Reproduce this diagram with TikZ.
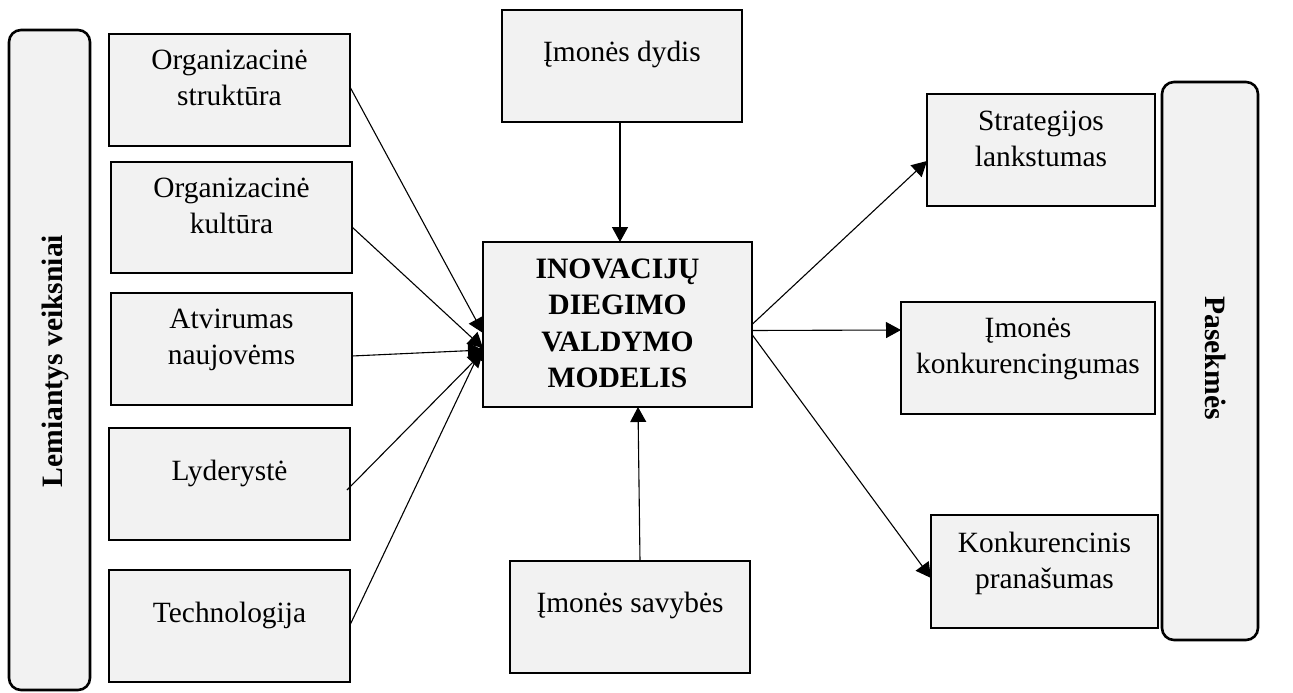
\documentclass[tikz,border=0pt]{standalone}
\usepackage{fontspec}
\setmainfont{Liberation Serif}
\usetikzlibrary{arrows.meta}
\definecolor{boxfill}{HTML}{F2F2F2}
% centred lines whose reference point is the baseline of the first line
\newcommand{\boxlines}[1]{\begin{tabular}[t]{@{}c@{}}#1\end{tabular}}
\begin{document}
\begin{tikzpicture}[x=1pt,y=-1pt,
  box/.style={draw=black, line width=2.6pt, fill=boxfill, inner sep=0pt, outer sep=0pt, anchor=north west},
  side/.style={box, rounded corners=12pt},
  lbl/.style={inner sep=0pt, anchor=base, font=\fontsize{29.4}{36}\selectfont},
  head/.style={inner sep=0pt, anchor=base, font=\fontsize{29.6}{36.5}\selectfont\bfseries},
  link/.style={line width=1.1pt, -{Triangle[length=15pt,width=16pt]}},
]
\useasboundingbox (0,0) rectangle (1293,693);

% side bands
\node[side, minimum width=81pt, minimum height=660pt] (lf) at (9,30) {};
\node[side, minimum width=96pt, minimum height=558pt] (rf) at (1162,82) {};
\node[head, rotate=90] (lft) at (62,361) {Lemiantys veiksniai};
\node[head, rotate=-90] (rgt) at (1205,358) {Pasekmės};

% determining factors
\node[box, minimum width=241pt, minimum height=112pt] (s1) at (109,34) {};
\node[box, minimum width=241pt, minimum height=111pt] (s2) at (111,162) {};
\node[box, minimum width=241pt, minimum height=112pt] (s3) at (111,293) {};
\node[box, minimum width=241pt, minimum height=112pt] (s4) at (109,428) {};
\node[box, minimum width=241pt, minimum height=112pt] (s5) at (109,570) {};
\node[lbl] (s1t) at (229.5,70) {\boxlines{Organizacinė\\struktūra}};
\node[lbl] (s2t) at (231.5,197) {\boxlines{Organizacinė\\kultūra}};
\node[lbl] (s3t) at (231.5,328) {\boxlines{Atvirumas\\naujovėms}};
\node[lbl] (s4t) at (229.5,480) {Lyderystė};
\node[lbl] (s5t) at (229.5,622) {Technologija};

% central model and company boxes
\node[box, minimum width=240pt, minimum height=112pt] (d) at (502,10) {};
\node[box, minimum width=269pt, minimum height=165pt] (m) at (483,242) {};
\node[box, minimum width=240pt, minimum height=112pt] (v) at (510,561) {};
\node[lbl] (dt) at (622,62) {Įmonės dydis};
\node[head] (mt) at (617.5,278) {\boxlines{INOVACIJŲ\\DIEGIMO\\VALDYMO\\MODELIS}};
\node[lbl] (vt) at (630,612) {Įmonės savybės};

% consequences
\node[box, minimum width=228pt, minimum height=112pt] (r1) at (927,94) {};
\node[box, minimum width=254pt, minimum height=112pt] (r2) at (901,302) {};
\node[box, minimum width=227pt, minimum height=113pt] (r3) at (931,515) {};
\node[lbl] (r1t) at (1041,130) {\boxlines{Strategijos\\lankstumas}};
\node[lbl] (r2t) at (1028,337) {\boxlines{Įmonės\\konkurencingumas}};
\node[lbl] (r3t) at (1044.5,552) {\boxlines{Konkurencinis\\pranašumas}};

% factors into the model
\draw[link] ([yshift=3pt]s1.east) -- ([yshift=-8.5pt]m.west);
\draw[link] ([yshift=-9.5pt]s2.east) -- ([yshift=-23.5pt]m.west);
\draw[link] ([yshift=-7pt]s3.east) -- ([yshift=-25.5pt]m.west);
\draw[link] ([xshift=-3pt,yshift=-6pt]s4.east) -- ([yshift=-27.5pt]m.west);
\draw[link] ([yshift=1pt]s5.east) -- ([yshift=-20.5pt]m.west);
\draw[link, line width=1.4pt] ([xshift=-2pt]d.south) -- ([xshift=2.5pt]m.north);
\draw[link] ([xshift=10pt]v.north) -- ([xshift=20.5pt]m.south);

% model to consequences
\draw[link] (m.east) -- ([yshift=-11pt]r1.west);
\draw[link] ([yshift=-6pt]m.east) -- ([yshift=28pt]r2.west);
\draw[link] ([yshift=-10pt]m.east) -- ([yshift=-6.5pt]r3.west);
\end{tikzpicture}
\end{document}
